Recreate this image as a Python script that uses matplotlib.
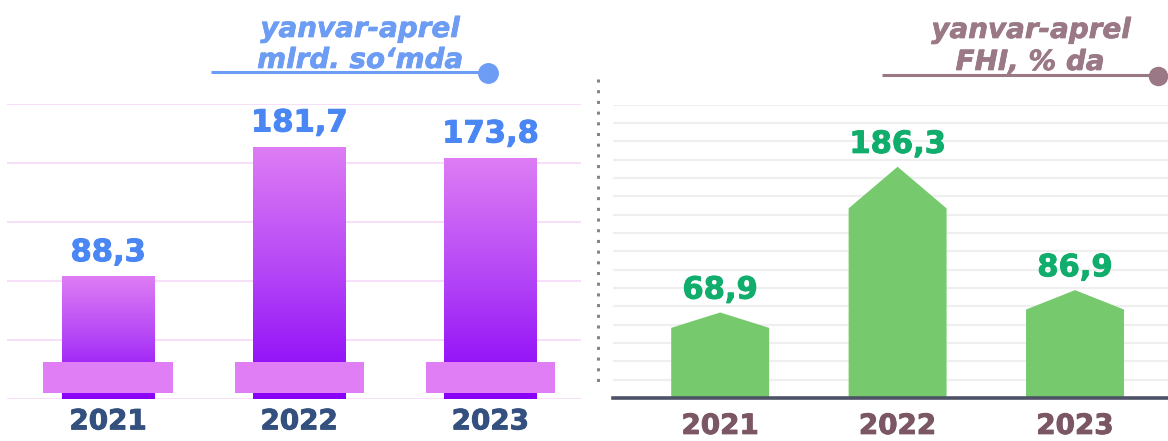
import matplotlib
matplotlib.use('Agg')
import matplotlib.pyplot as plt
import matplotlib.patheffects as pe
import numpy as np
from matplotlib.colors import LinearSegmentedColormap

# ---- data ----
years = ['2021', '2022', '2023']
volume_mlrd_som = [88.3, 181.7, 173.8]     # yanvar-aprel, mlrd. so'mda
growth_pct = [68.9, 186.3, 86.9]           # yanvar-aprel, FHI, % da
left_title = ['yanvar-aprel', 'mlrd. so\u2018mda']
right_title = ['yanvar-aprel', 'FHI, % da']


def fmt(v):
    return f"{v:.1f}".replace('.', ',')


def heavy(color, w=0.7):
    return [pe.withStroke(linewidth=w, foreground=color)]


W, H = 1168, 441
fig = plt.figure(figsize=(W / 100, H / 100), dpi=100)


def px_axes(l, r, top, bottom):
    return fig.add_axes([l / W, 1 - bottom / H, (r - l) / W, (bottom - top) / H])


# ---------------- left panel ----------------
ax = px_axes(7, 581, 104, 399)
x = np.arange(len(years))
bw = 0.482
ymax_l = 212.5
ax.set_yticks(np.linspace(0, ymax_l, 6))
ax.yaxis.grid(True, color='#f7dcf9', lw=1.3, zorder=0)
ax.set_axisbelow(True)
for s in ax.spines.values():
    s.set_visible(False)
ax.tick_params(axis='y', length=0, labelleft=False)

cmap = LinearSegmentedColormap.from_list('pv', ['#8800f8', '#b445f6', '#de7df4'])
grad = np.linspace(0, 1, 256).reshape(-1, 1)
bars = ax.bar(x, volume_mlrd_som, width=bw, color='none', edgecolor='none', zorder=3)
for b, xi, v in zip(bars, x, volume_mlrd_som):
    im = ax.imshow(grad, extent=(xi - bw / 2, xi + bw / 2, -0.8, v), aspect='auto',
                   cmap=cmap, origin='lower', zorder=3, interpolation='bilinear')
    im.set_clip_path(b)
# decorative base plates
ax.bar(x, 22, bottom=4.5, width=0.677, color='#e07ef5', zorder=4)

for xi, v in zip(x, volume_mlrd_som):
    ax.annotate(fmt(v), (xi, v), xytext=(0, 11), textcoords='offset points',
                ha='center', va='baseline', fontsize=22, fontweight='bold',
                color='#4a87f4', zorder=5, path_effects=heavy('#4a87f4'))

ax.set_xticks(x, years, fontsize=20, fontweight='bold', color='#34507e',
              path_effects=heavy('#34507e'))
ax.tick_params(axis='x', length=0, pad=6)
ax.set_xlim(-0.529, 2.474)
ax.set_ylim(0, ymax_l)

# ---------------- right panel ----------------
ax2 = px_axes(613, 1168, 104.7, 398)
gw = 0.552
ymax_r = 236.3
ax2.set_yticks(np.linspace(0, ymax_r, 17))
ax2.yaxis.grid(True, color='#efefef', lw=1.6, zorder=0)
ax2.set_axisbelow(True)
for k, s in ax2.spines.items():
    s.set_visible(k == 'bottom')
ax2.spines['bottom'].set_color('#4e5266')
ax2.spines['bottom'].set_linewidth(2.6)
ax2.spines['bottom'].set_zorder(5)
ax2.tick_params(axis='y', length=0, labelleft=False)

for xi, v in zip(x, growth_pct):
    xs = [xi - gw / 2, xi - gw / 2, xi, xi + gw / 2, xi + gw / 2]
    ys = [0, 0.82 * v, v, 0.82 * v, 0]
    ax2.fill(xs, ys, color='#76c96d', zorder=3, lw=0)
    ax2.annotate(fmt(v), (xi, v), xytext=(0, 10), textcoords='offset points',
                 ha='center', va='baseline', fontsize=22, fontweight='bold',
                 color='#10ad6d', zorder=5, path_effects=heavy('#10ad6d'))

ax2.set_xticks(x, years, fontsize=20, fontweight='bold', color='#7b5664',
               path_effects=heavy('#7b5664'))
ax2.tick_params(axis='x', length=0, pad=10)
ax2.set_xlim(-0.604, 2.524)
ax2.set_ylim(0, ymax_r)

# ---------------- overlay: titles & decorations ----------------
ov = fig.add_axes([0, 0, 1, 1])
ov.set_xlim(0, W)
ov.set_ylim(H, 0)
ov.axis('off')

ov.plot([598, 598], [79, 389], color='#858585', lw=2.2, ls=(0, (1, 2.5)))

ov.plot([211, 488], [72, 72], color='#6c9cf4', lw=2.2, solid_capstyle='butt')
ov.plot([488], [73], 'o', ms=14, color='#6c9cf4')
for yy, t in zip([29, 60], left_title):
    ov.text(360, yy, t, ha='center', va='center', fontsize=20,
            fontweight='bold', fontstyle='italic', color='#6c9cf4',
            path_effects=heavy('#6c9cf4', 0.5))

ov.plot([882, 1158], [75, 75], color='#9a7886', lw=2.2, solid_capstyle='butt')
ov.plot([1158], [76], 'o', ms=13, color='#9a7886', clip_on=False)
for yy, xx, t in zip([30, 62], [1031, 1030], right_title):
    ov.text(xx, yy, t, ha='center', va='center', fontsize=20,
            fontweight='bold', fontstyle='italic', color='#9a7886',
            path_effects=heavy('#9a7886', 0.5))

fig.savefig('out.png', dpi=100)
